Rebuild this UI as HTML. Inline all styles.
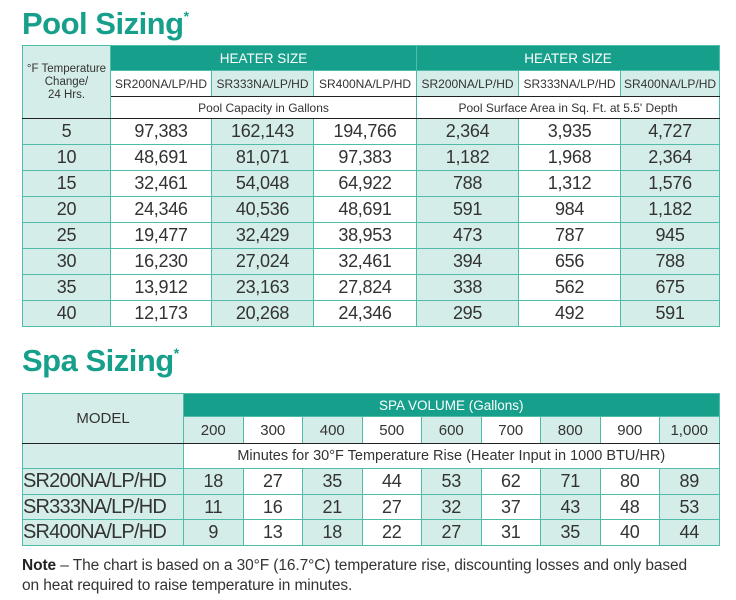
<!DOCTYPE html>
<html><head><meta charset="utf-8"><style>
body{margin:0;width:736px;height:600px;background:#fff;font-family:"Liberation Sans",sans-serif;color:#333;position:relative;overflow:hidden}
h1{position:absolute;margin:0;left:22px;font-size:31px;font-weight:bold;color:#16a08c;letter-spacing:-0.5px}
h1 sup{font-size:14px;vertical-align:top;position:relative;top:2px}
table{position:absolute;border-collapse:collapse;table-layout:fixed}
td{padding:0;text-align:center;border:1px solid #4fbcaa;white-space:nowrap;overflow:hidden}
.t{background:#16a08c;color:#fff;font-size:13.5px}
.s{background:#d5ede8}
.bl{border-left:1.5px solid #222}
.bb{border-bottom:1.5px solid #222}
.d td{font-size:18px;letter-spacing:-0.3px}
.m{text-align:left;font-size:20px!important;letter-spacing:-0.8px!important}
.note{position:absolute;left:22px;top:556px;font-size:15.5px;line-height:20px;color:#333;letter-spacing:-0.1px}
</style></head><body>
<h1 style="top:6px">Pool Sizing<sup>*</sup></h1>
<table style="left:22px;top:45px;width:697px">
<col style="width:88px"><col style="width:101px"><col style="width:102px"><col style="width:103px"><col style="width:102px"><col style="width:102px"><col style="width:99px">
<tr style="height:25px"><td class="s" rowspan="3" style="font-size:11.5px;line-height:13px;border-bottom:1.5px solid #222">°F Temperature<br>Change/<br>24 Hrs.</td><td class="t bl" colspan="3">HEATER SIZE</td><td class="t bl" colspan="3">HEATER SIZE</td></tr>
<tr style="height:26px;font-size:12px"><td class="bl bb">SR200NA/LP/HD</td><td class="s bb">SR333NA/LP/HD</td><td class="bb">SR400NA/LP/HD</td><td class="s bl bb">SR200NA/LP/HD</td><td class="bb">SR333NA/LP/HD</td><td class="s bb">SR400NA/LP/HD</td></tr>
<tr style="height:22px;font-size:12px"><td class="bl bb" colspan="3">Pool Capacity in Gallons</td><td class="bl bb" colspan="3">Pool Surface Area in Sq. Ft. at 5.5' Depth</td></tr>
<tbody class="d">
<tr style="height:26px"><td class="s">5</td><td class="bl">97,383</td><td class="s">162,143</td><td>194,766</td><td class="s bl">2,364</td><td>3,935</td><td class="s">4,727</td></tr>
<tr style="height:26px"><td class="s">10</td><td class="bl">48,691</td><td class="s">81,071</td><td>97,383</td><td class="s bl">1,182</td><td>1,968</td><td class="s">2,364</td></tr>
<tr style="height:26px"><td class="s">15</td><td class="bl">32,461</td><td class="s">54,048</td><td>64,922</td><td class="s bl">788</td><td>1,312</td><td class="s">1,576</td></tr>
<tr style="height:26px"><td class="s">20</td><td class="bl">24,346</td><td class="s">40,536</td><td>48,691</td><td class="s bl">591</td><td>984</td><td class="s">1,182</td></tr>
<tr style="height:26px"><td class="s">25</td><td class="bl">19,477</td><td class="s">32,429</td><td>38,953</td><td class="s bl">473</td><td>787</td><td class="s">945</td></tr>
<tr style="height:26px"><td class="s">30</td><td class="bl">16,230</td><td class="s">27,024</td><td>32,461</td><td class="s bl">394</td><td>656</td><td class="s">788</td></tr>
<tr style="height:26px"><td class="s">35</td><td class="bl">13,912</td><td class="s">23,163</td><td>27,824</td><td class="s bl">338</td><td>562</td><td class="s">675</td></tr>
<tr style="height:26px"><td class="s">40</td><td class="bl">12,173</td><td class="s">20,268</td><td>24,346</td><td class="s bl">295</td><td>492</td><td class="s">591</td></tr>
</tbody></table>
<h1 style="top:343px">Spa Sizing<sup>*</sup></h1>
<table style="left:22px;top:393px;width:697px">
<col style="width:161px"><col span="9" style="width:59.5px">
<tr style="height:23px"><td class="s" rowspan="2" style="font-size:15px;border-bottom:1.5px solid #222">MODEL</td><td class="t" colspan="9">SPA VOLUME (Gallons)</td></tr>
<tr style="height:27px;font-size:15px"><td class="s bb">200</td><td class="bb">300</td><td class="s bb">400</td><td class="bb">500</td><td class="s bb">600</td><td class="bb">700</td><td class="s bb">800</td><td class="bb">900</td><td class="s bb">1,000</td></tr>
<tr style="height:25px"><td class="s" style="border-bottom:none"></td><td colspan="9" style="font-size:14.5px">Minutes for 30°F Temperature Rise (Heater Input in 1000 BTU/HR)</td></tr>
<tbody class="d">
<tr style="height:26px"><td class="s m">SR200NA/LP/HD</td><td class="s">18</td><td>27</td><td class="s">35</td><td>44</td><td class="s">53</td><td>62</td><td class="s">71</td><td>80</td><td class="s">89</td></tr>
<tr style="height:25px"><td class="s m">SR333NA/LP/HD</td><td class="s">11</td><td>16</td><td class="s">21</td><td>27</td><td class="s">32</td><td>37</td><td class="s">43</td><td>48</td><td class="s">53</td></tr>
<tr style="height:26px"><td class="s m">SR400NA/LP/HD</td><td class="s">9</td><td>13</td><td class="s">18</td><td>22</td><td class="s">27</td><td>31</td><td class="s">35</td><td>40</td><td class="s">44</td></tr>
</tbody></table>
<div class="note"><b style="color:#222">Note</b> – The chart is based on a 30°F (16.7°C) temperature rise, discounting losses and only based<br>on heat required to raise temperature in minutes.</div>
</body></html>
